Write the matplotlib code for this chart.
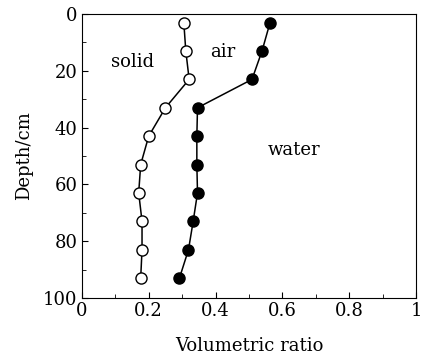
import matplotlib
matplotlib.use("Agg")
import matplotlib.pyplot as plt
from matplotlib.ticker import MultipleLocator

# -------------------------------
# Data
# -------------------------------
depth = [3, 13, 23, 33, 43, 53, 63, 73, 83, 93]
solid = [0.305, 0.311, 0.321, 0.250, 0.200, 0.176, 0.170, 0.180, 0.180, 0.176]
solid_air = [0.563, 0.539, 0.509, 0.346, 0.344, 0.344, 0.346, 0.333, 0.319, 0.292]

plt.rcParams["font.family"] = ["DejaVu Serif"]
plt.rcParams["font.size"] = 13

fig = plt.figure(figsize=(4.22, 3.62), dpi=100)
ax = fig.add_axes([0.194, 0.177, 0.792, 0.784])

ax.plot(solid, depth, "-o", color="black", lw=1.1, ms=8,
        mfc="white", mec="black", mew=1.0)
ax.plot(solid_air, depth, "-o", color="black", lw=1.1, ms=8,
        mfc="black", mec="black")

ax.text(0.153, 16.8, "solid", ha="center", va="center")
ax.text(0.423, 13.5, "air", ha="center", va="center")
ax.text(0.636, 48, "water", ha="center", va="center")

ax.set_xlim(0, 1)
ax.set_ylim(100, 0)
ax.set_xticks([0, 0.2, 0.4, 0.6, 0.8, 1])
ax.set_xticklabels(["0", "0.2", "0.4", "0.6", "0.8", "1"])
ax.set_yticks([0, 20, 40, 60, 80, 100])
ax.xaxis.set_minor_locator(MultipleLocator(0.1))
ax.yaxis.set_minor_locator(MultipleLocator(10))
ax.tick_params(which="both", direction="in", top=False, right=False)
ax.tick_params(which="major", length=4, pad=3)
ax.tick_params(which="minor", length=3)

ax.set_xlabel("Volumetric ratio", labelpad=12)
ax.set_ylabel("Depth/cm", labelpad=7)

fig.savefig("out.png", dpi=100)
